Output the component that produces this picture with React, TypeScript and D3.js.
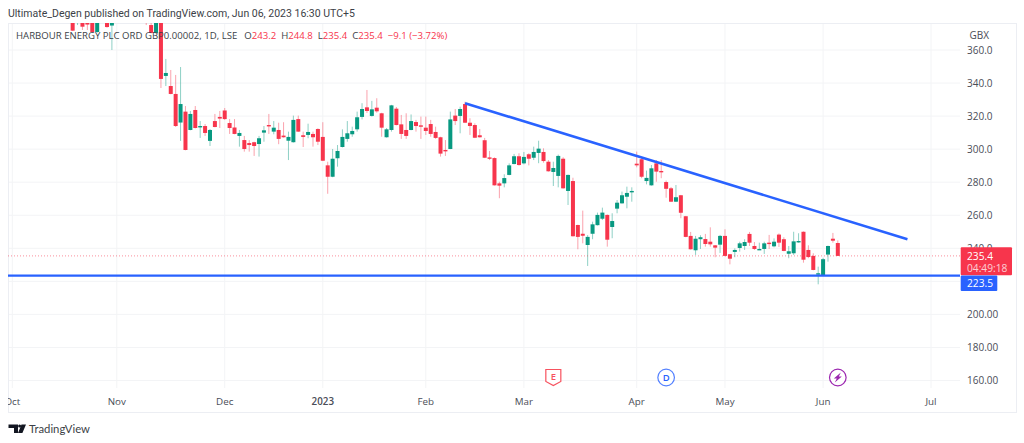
import { useEffect, useRef } from 'react'
import * as d3 from 'd3'

// daily candles, index 0 is Nov 1 2022 (trading days, first one is firstBar)
const firstBar = -9
const opens = [
  378.2, 378.2, 378.2, 378.2, 379.4, 370.9, 384, 378.2, 374.8,
  392, 388, 385, 383, 381, 384, 386, 375.1, 370.3, 378,
  344.3, 338.2, 333.4, 316.1, 322.7, 311.6, 323.7, 313.4, 314, 305,
  317, 319.5, 323.4, 315.8, 313.1, 308, 305.5, 303.7, 304.2, 303.1,
  310, 314.6, 310.6, 311.6, 308.2, 305.1, 304.2, 318.2, 308.4, 308.6,
  309.2, 312.2, 307.4, 290.2, 283.3, 294.5, 301.3, 306.2, 309, 312,
  319.5, 325.3, 320.1, 325.1, 321.7, 307.2, 311.6, 324.5, 315, 311.6,
  311.6, 316.4, 314.4, 313, 315.2, 310.4, 307.2, 299.5, 300.1, 320.3,
  320.1, 327.3, 316, 314.6, 308.4, 305.4, 295, 294.6, 279.3, 279.3,
  284.4, 291, 295.7, 291.4, 296.9, 294.8, 297.7, 298.3, 292.4, 286.2,
  283.8, 294.2, 274.7, 280.7, 254.1, 248.8, 242, 248.8, 254, 257.9,
  260.2, 252.9, 264, 267.2, 271.2, 274.1, 291.2, 293.9, 280.7, 278.1,
  291.4, 286.8, 280.1, 276.3, 268.2, 272.1, 259.4, 247.5, 238.8, 245.5,
  245.6, 244, 241.8, 242.2, 247.5, 236.4, 237.8, 240.2, 241.4, 248.7,
  241.4, 239.2, 239.6, 243.4, 241.2, 248.3, 245.5, 236.7, 237, 243.6,
  250, 239, 235.4, 224.5, 223.7, 236.2, 245.8, 243.2,
]
const highs = [
  379.4, 382, 380, 380, 381, 381, 386, 380, 381,
  396, 392, 390, 388, 387, 388, 388, 377, 380, 382,
  354.6, 347.9, 344.9, 349.7, 326.1, 323.1, 326.1, 317, 315.2, 312.2,
  321.3, 323.1, 324.9, 318.2, 318.2, 311.6, 308, 305.5, 304.5, 308,
  314, 321.3, 317, 316, 316.3, 310.6, 320.3, 320.3, 310.6, 315.4,
  310.6, 312.6, 316.3, 292.4, 300.1, 302.5, 312, 317, 313.6, 322.7,
  327.8, 335.8, 329.2, 330.8, 322, 312.8, 326.8, 325.5, 320.7, 321.7,
  321, 317.7, 319.7, 319.7, 317.7, 313.6, 307.5, 305.5, 322.7, 324.3,
  325.7, 328.7, 318.7, 315.6, 312.2, 306.8, 298.9, 295, 280.3, 284.8,
  291.4, 297.1, 297.5, 298.3, 297.5, 301.5, 305.1, 300.5, 293.4, 292.4,
  296.7, 295.1, 284.6, 282.7, 254.3, 262.8, 248, 256.1, 261.6, 264.6,
  260.5, 261.2, 269.2, 274.3, 277.3, 276.9, 298.5, 295.1, 287, 290.4,
  293.4, 293.4, 281, 277.1, 278.3, 272.3, 259.6, 249.9, 247.5, 247.9,
  248.7, 252.7, 242, 248.1, 251.5, 236.5, 240, 244, 245.5, 249.9,
  243.8, 243.4, 244, 248.1, 246, 249, 246.7, 241.4, 250, 249.1,
  250.2, 241.8, 237, 228.9, 234.2, 241.6, 249.3, 244.8,
]
const lows = [
  371.5, 375.1, 372.1, 372.1, 370.5, 370.5, 380, 373.5, 360,
  384, 383, 380, 378.5, 378, 379, 375.1, 370, 369.7, 337,
  338.2, 333.2, 313.4, 305, 299.3, 311.4, 312.5, 306.8, 308, 301.9,
  313.2, 312.8, 317.7, 309.2, 309, 301.5, 298.5, 298.5, 295.9, 295.5,
  304.5, 309.2, 309, 303, 307, 293.4, 304, 310.4, 301.3, 306.6,
  301.5, 302.5, 292.8, 273, 283, 289.4, 301, 304.5, 307.5, 310.6,
  318, 321.9, 319.7, 322.1, 307.5, 307, 310.6, 314.4, 306.2, 306.2,
  311.4, 310.6, 306.2, 308.6, 307.5, 306.2, 295.5, 295.9, 300, 314.6,
  309.6, 315.8, 308.6, 306.7, 307, 294.6, 293.4, 278, 270.3, 276.9,
  284.2, 290.8, 290, 290.8, 290.2, 293.4, 291.5, 291.8, 286.4, 277.7,
  276.9, 276.1, 266.2, 247.1, 239.4, 243, 229.3, 245.5, 253.8, 257.1,
  241, 246.1, 261.2, 267, 264.2, 268.2, 289, 282.4, 278.7, 277.9,
  280.3, 282.4, 270.6, 268, 268, 258.2, 246.7, 239.2, 236, 239.6,
  241, 241, 234.6, 237.2, 235.2, 230.3, 234.6, 238, 239, 241.4,
  239, 239, 236.6, 239.6, 240.6, 240.8, 238.2, 234, 236, 243.4,
  231.3, 234, 226.7, 218.2, 223.5, 231.9, 243.4, 235.4,
]
const closes = [
  371.7, 380.6, 374.1, 375.4, 370.9, 379.4, 382, 373.9, 379.4,
  388, 385, 383, 381, 384, 380, 380, 370.3, 378, 342.5,
  346.1, 333.4, 314, 327.3, 299.5, 321.3, 312.8, 314, 309.8, 311.6,
  313.4, 318.5, 318.2, 312.8, 309.2, 309.8, 300.1, 302.5, 301.9, 306.6,
  311.4, 313.8, 313, 306.2, 307.2, 307.4, 317.7, 310.6, 307.4, 310.4,
  307.2, 304.5, 293, 283.3, 294.2, 298.9, 307.4, 309.6, 311, 319.3,
  324.3, 323.1, 324.1, 322.9, 313, 312, 326.5, 314.6, 309.2, 308,
  317, 314, 313.6, 311, 309.2, 306.8, 297.3, 298.9, 318, 317,
  324.3, 316, 314, 306.9, 307.2, 294.8, 294.2, 278.1, 277.9, 282.5,
  290.2, 295.7, 290.4, 295.3, 294.2, 298.3, 300.3, 292.8, 286.6, 288.6,
  295.9, 276.3, 284.4, 247.3, 246.9, 247.6, 246.9, 254.5, 260.2, 261.6,
  245.2, 256.5, 267.6, 272.1, 273.5, 274.7, 290.2, 283.3, 282.6, 288.4,
  286.4, 286.4, 276, 268.2, 270.9, 261.5, 246.9, 239.4, 245.8, 246.7,
  242.6, 242.4, 240.4, 247.5, 235.4, 233.7, 239, 243, 243.8, 243.4,
  239.6, 239.6, 243, 242.6, 244, 243.4, 238.4, 238.2, 244.2, 244.4,
  233.1, 234.7, 226.9, 224.9, 233.4, 241.4, 244.6, 235.4,
]

const priceTicks = ['360.0', '340.0', '320.0', '300.0', '280.0', '260.0', '240.0', '200.00', '180.00', '160.00']
const gridPrices = [360, 340, 320, 300, 280, 260, 240, 220, 200, 180, 160]
const monthLabels = ['Oct', 'Nov', 'Dec', '2023', 'Feb', 'Mar', 'Apr', 'May', 'Jun', 'Jul']
const monthBars = [-21.3, 0, 22, 42, 63, 83, 106, 124, 144, 166]
const trendBars = [71, 161.2]
const trendPrices = [327.8, 245.5]
const supportPrice = 223.5
const lastPrice = 235.4
const countdown = '04:49:18'
const eventBars = [89, 112, 147]
const legendValues = [['O', '243.2'], ['H', '244.8'], ['L', '235.4'], ['C', '235.4']]

const width = 1024
const height = 443
const up = '#089981'
const down = '#f7354c'
const blue = '#2962ff'
const uiFont = '"Open Sans", sans-serif'

export default function App() {
  const svgRef = useRef<SVGSVGElement>(null)

  useEffect(() => {
    if (!svgRef.current) return
    const svg = d3.select(svgRef.current)
    svg.selectAll('*').remove()

    const frame = { left: 8, right: 1016, top: 23, bottom: 412 }
    const plotRight = 960
    const plotBottom = 388

    const x = d3.scaleLinear().domain([0, 166]).range([116.8, 931])
    const y = d3.scaleLinear().domain([360, 160]).range([50, 380.5])

    svg.append('rect').attr('width', width).attr('height', height).attr('fill', '#fff')

    const defs = svg.append('defs')
    defs.append('clipPath').attr('id', 'plot').append('rect')
      .attr('x', frame.left).attr('y', frame.top)
      .attr('width', plotRight - frame.left).attr('height', plotBottom - frame.top)
    defs.append('clipPath').attr('id', 'frame').append('rect')
      .attr('x', frame.left).attr('y', frame.top)
      .attr('width', frame.right - frame.left).attr('height', frame.bottom - frame.top)

    // grid
    const grid = svg.append('g').attr('stroke', '#f3f4f6').attr('stroke-width', 1)
    gridPrices.forEach(p => {
      grid.append('line').attr('x1', frame.left).attr('x2', plotRight).attr('y1', y(p)).attr('y2', y(p))
    })
    monthBars.forEach(b => {
      grid.append('line').attr('x1', x(b)).attr('x2', x(b)).attr('y1', frame.top).attr('y2', plotBottom)
    })

    svg.append('rect')
      .attr('x', frame.left + 0.5).attr('y', frame.top + 0.5)
      .attr('width', frame.right - frame.left).attr('height', frame.bottom - frame.top)
      .attr('fill', 'none').attr('stroke', '#eceef3')

    // candles
    const candles = svg.append('g').attr('clip-path', 'url(#plot)')
    opens.forEach((open, i) => {
      const close = closes[i]
      const cx = x(firstBar + i)
      const color = close >= open ? up : down
      candles.append('line')
        .attr('x1', cx).attr('x2', cx)
        .attr('y1', y(highs[i])).attr('y2', y(lows[i]))
        .attr('stroke', color).attr('stroke-width', 1).attr('opacity', 0.45)
      candles.append('rect')
        .attr('x', cx - 2).attr('width', 4)
        .attr('y', y(Math.max(open, close)))
        .attr('height', Math.max(1.4, Math.abs(y(open) - y(close))))
        .attr('fill', color)
    })

    // last price line
    svg.append('line')
      .attr('x1', frame.left).attr('x2', plotRight)
      .attr('y1', y(lastPrice)).attr('y2', y(lastPrice))
      .attr('stroke', down).attr('stroke-opacity', 0.55).attr('stroke-dasharray', '1,2')

    // drawings
    const trend = d3.line<number>().x(b => x(b)).y((_, i) => y(trendPrices[i]))
    svg.append('path').attr('d', trend(trendBars)).attr('fill', 'none')
      .attr('stroke', blue).attr('stroke-width', 2.6)
    svg.append('line')
      .attr('x1', frame.left).attr('x2', plotRight)
      .attr('y1', y(supportPrice)).attr('y2', y(supportPrice))
      .attr('stroke', blue).attr('stroke-width', 2.2)

    // price axis
    const axisText = svg.append('g').attr('font-family', uiFont).attr('font-size', 10).attr('fill', '#4a4d57')
    priceTicks.forEach(t => {
      axisText.append('text').attr('x', 967).attr('y', y(parseFloat(t))).attr('dy', '0.36em').text(t)
    })
    axisText.append('text').attr('x', 969.5).attr('y', 35).attr('dy', '0.36em').text('GBX')

    // time axis
    const timeText = svg.append('g').attr('clip-path', 'url(#frame)')
      .attr('font-family', uiFont).attr('font-size', 9.8).attr('fill', '#4a4d57').attr('text-anchor', 'middle')
    monthLabels.forEach((m, i) => {
      timeText.append('text').attr('x', x(monthBars[i])).attr('y', 401).attr('dy', '0.36em')
        .attr('font-weight', m === '2023' ? 600 : 400).text(m)
    })

    // price tags
    const tagLeft = 960.7
    svg.append('rect').attr('x', tagLeft).attr('y', y(lastPrice) - 8.6).attr('width', 51.3).attr('height', 28).attr('fill', down).attr('rx', 1)
    svg.append('rect').attr('x', tagLeft).attr('y', y(supportPrice)).attr('width', 36.6).attr('height', 15.5).attr('fill', blue).attr('rx', 1)
    const tags = svg.append('g').attr('font-family', uiFont).attr('font-size', 10.2)
    tags.append('text').attr('x', 967).attr('y', y(lastPrice) + 0.3).attr('dy', '0.36em').attr('fill', '#fff').text(lastPrice.toFixed(1))
    tags.append('text').attr('x', 967).attr('y', y(lastPrice) + 12.3).attr('dy', '0.36em').attr('fill', '#fff').attr('opacity', 0.75).text(countdown)
    tags.append('text').attr('x', 967).attr('y', y(supportPrice) + 7.5).attr('dy', '0.36em').attr('fill', '#fff').text(supportPrice.toFixed(1))

    // event markers on the time axis
    const markerY = 377.5
    const ex = x(eventBars[0])
    svg.append('path')
      .attr('d', `M${ex - 7.5},${markerY - 8}h15v12l-7.5,4l-7.5,-4z`)
      .attr('fill', '#fff').attr('stroke', '#f7525f').attr('stroke-width', 1.2)
    svg.append('text').attr('x', ex).attr('y', markerY - 0.5).attr('dy', '0.36em').attr('text-anchor', 'middle')
      .attr('font-family', uiFont).attr('font-size', 9.5).attr('font-weight', 600).attr('fill', '#f7525f').text('E')
    const dx = x(eventBars[1])
    svg.append('circle').attr('cx', dx).attr('cy', markerY).attr('r', 8.3)
      .attr('fill', '#fff').attr('stroke', blue).attr('stroke-opacity', 0.8).attr('stroke-width', 1.2)
    svg.append('text').attr('x', dx).attr('y', markerY).attr('dy', '0.36em').attr('text-anchor', 'middle')
      .attr('font-family', uiFont).attr('font-size', 9.5).attr('font-weight', 600).attr('fill', blue).text('D')
    const sx = x(eventBars[2])
    svg.append('circle').attr('cx', sx).attr('cy', markerY).attr('r', 8.3)
      .attr('fill', '#fff').attr('stroke', '#9c27b0').attr('stroke-width', 1.2)
    svg.append('path')
      .attr('d', `M${sx + 3},${markerY - 5}L${sx - 4},${markerY + 1}h3l-2,4l7,-6h-3z`)
      .attr('fill', '#9c27b0')

    // header texts
    svg.append('text').attr('x', 8).attr('y', 13).attr('dy', '0.36em')
      .attr('font-family', 'Roboto, sans-serif').attr('font-size', 10.5).attr('fill', '#3c3f47')
      .text('Ultimate_Degen published on TradingView.com, Jun 06, 2023 16:30 UTC+5')

    const legend = svg.append('text').attr('x', 16).attr('y', 36).attr('dy', '0.36em')
      .attr('font-family', uiFont).attr('font-size', 9.6).attr('fill', '#3c3f47')
    legend.append('tspan').text('HARBOUR ENERGY PLC ORD GBP0.00002, 1D, LSE')
    legendValues.forEach(([k, v], i) => {
      legend.append('tspan').attr('dx', i === 0 ? 7 : 5).text(k)
      legend.append('tspan').attr('fill', down).text(v)
    })
    legend.append('tspan').attr('dx', 5).attr('fill', down).text('\u22129.1 (\u22123.72%)')

    // footer logo
    svg.append('path')
      .attr('d', 'M8.5,424.5h9.5v8.5h-4v-5h-5.5zM21.5,424.5h4.5l-3.6,8.5h-4.4z')
      .attr('fill', '#131722')
    svg.append('circle').attr('cx', 19.6).attr('cy', 426).attr('r', 1.5).attr('fill', '#131722')
    svg.append('text').attr('x', 29).attr('y', 428.5).attr('dy', '0.36em')
      .attr('font-family', 'Lato, sans-serif').attr('font-size', 11.3).attr('fill', '#3c3f47').text('TradingView')
  }, [])

  return (
    <svg
      ref={svgRef}
      width={width}
      height={height}
      style={{ position: 'fixed', left: 0, top: 0, display: 'block' }}
    />
  )
}
